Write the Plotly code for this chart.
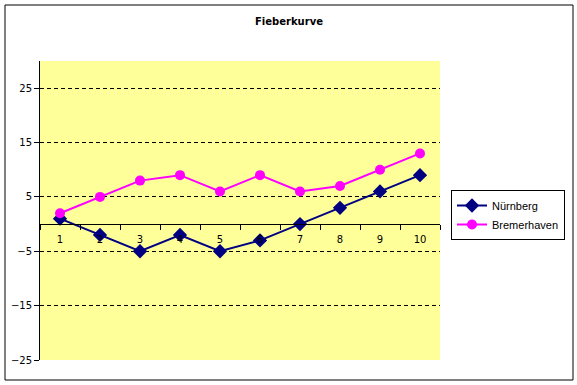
import plotly.graph_objects as go

categories = ["1", "2", "3", "4", "5", "6", "7", "8", "9", "10"]
nuernberg = [1, -2, -5, -2, -5, -3, 0, 3, 6, 9]
bremerhaven = [2, 5, 8, 9, 6, 9, 6, 7, 10, 13]
y_ticks = [-25, -15, -5, 5, 15, 25]

W, H = 577, 385
ml, mr, mt, mb = 40, 137, 61, 25
pw, ph = W - ml - mr, H - mt - mb

def px(x):
    return (x - ml) / pw

def py(y):
    return (H - mb - y) / ph

fig = go.Figure()
fig.add_trace(go.Scatter(
    x=categories, y=nuernberg, name="Nürnberg", mode="lines+markers",
    line=dict(color="#000080", width=2),
    marker=dict(symbol="diamond", size=11, color="#000080"),
))
fig.add_trace(go.Scatter(
    x=categories, y=bremerhaven, name="Bremerhaven", mode="lines+markers",
    line=dict(color="#FF00FF", width=2),
    marker=dict(symbol="circle", size=10, color="#FF00FF"),
))

fig.update_layout(
    width=W, height=H,
    margin=dict(l=ml, r=mr, t=mt, b=mb),
    paper_bgcolor="white",
    plot_bgcolor="#FFFF99",
    font=dict(family="DejaVu Sans", size=10, color="black"),
    title=dict(text="<b>Fieberkurve</b>", x=289 / W, xanchor="center",
               y=1 - 21 / H, yanchor="middle", font=dict(size=10)),
    showlegend=True,
    legend=dict(x=px(451), y=py(190), xanchor="left", yanchor="top",
                bordercolor="black", borderwidth=1, bgcolor="white",
                font=dict(family="Liberation Sans", size=11),
                tracegroupgap=0, itemwidth=30),
    xaxis=dict(
        type="category", range=[-0.5, 9.5],
        anchor="free", position=25 / 55,
        showline=True, linecolor="black", linewidth=1,
        ticks="outside", ticklen=5, tickcolor="black",
        tickson="boundaries", showgrid=False, zeroline=False,
        tickfont=dict(size=10), ticklabelstandoff=6,
    ),
    yaxis=dict(
        range=[-25, 30], tickvals=y_ticks,
        showline=True, linecolor="black", linewidth=1,
        ticks="outside", ticklen=5, tickcolor="black",
        showgrid=True, gridcolor="black", griddash="4px,3px", gridwidth=1,
        zeroline=False, tickfont=dict(size=10),
    ),
    shapes=[dict(type="rect", xref="paper", yref="paper",
                 x0=px(5), x1=px(573), y0=py(380), y1=py(5),
                 line=dict(color="black", width=1), layer="above")],
)

fig.write_html(
    "out.html",
    config={"displayModeBar": False},
    post_script="document.body.style.margin='0';document.body.style.padding='0';",
)
